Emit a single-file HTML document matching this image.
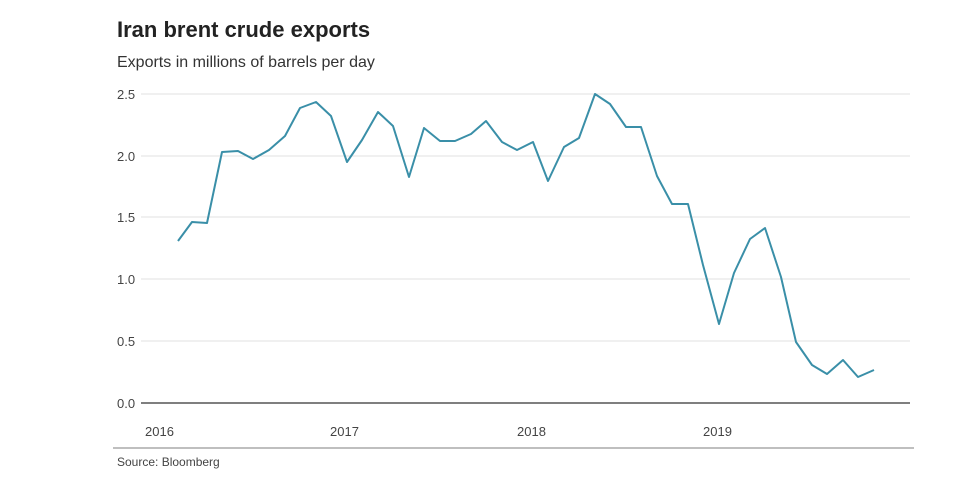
<!DOCTYPE html>
<html><head><meta charset="utf-8"><style>
body{margin:0;background:#fff;}
svg{display:block;font-family:"Liberation Sans",Arial,sans-serif;}
</style></head><body>
<svg width="975" height="494" viewBox="0 0 975 494">
<rect width="975" height="494" fill="#fff"/>
<text x="117" y="37" font-size="22" font-weight="bold" fill="#222">Iran brent crude exports</text>
<text x="117" y="67" font-size="16" fill="#333">Exports in millions of barrels per day</text>
<g stroke="#e2e2e2" stroke-width="1">
<line x1="141" x2="910" y1="94" y2="94"/>
<line x1="141" x2="910" y1="156" y2="156"/>
<line x1="141" x2="910" y1="217" y2="217"/>
<line x1="141" x2="910" y1="279" y2="279"/>
<line x1="141" x2="910" y1="341" y2="341"/>
</g>
<line x1="141" x2="910" y1="403" y2="403" stroke="#555" stroke-width="1.5"/>
<g font-size="13" fill="#444">
<text x="117" y="99">2.5</text>
<text x="117" y="161">2.0</text>
<text x="117" y="222">1.5</text>
<text x="117" y="284">1.0</text>
<text x="117" y="346">0.5</text>
<text x="117" y="408">0.0</text>
<text x="145" y="436">2016</text>
<text x="330" y="436">2017</text>
<text x="517" y="436">2018</text>
<text x="703" y="436">2019</text>
<text x="117" y="466" font-size="12">Source: Bloomberg</text>
</g>
<line x1="113" x2="914" y1="448" y2="448" stroke="#aaa" stroke-width="1.5"/>
<polyline fill="none" stroke="#3a8fa8" stroke-width="2" stroke-linejoin="round" points="178,241 192,222 207,223 222,152 238,151 253,159 269,150 285,136 300,108 316,102 331,116 347,162 362,140 378,112 393,126 409,177 424,128 440,141 455,141 471,134 486,121 502,142 517,150 533,142 548,181 564,147 579,138 595,94 610,104 626,127 641,127 657,176 672,204 688,204 703,265 719,324 734,273 750,239 765,228 781,277 796,342 812,365 827,374 843,360 858,377 874,370"/>
</svg>
</body></html>
